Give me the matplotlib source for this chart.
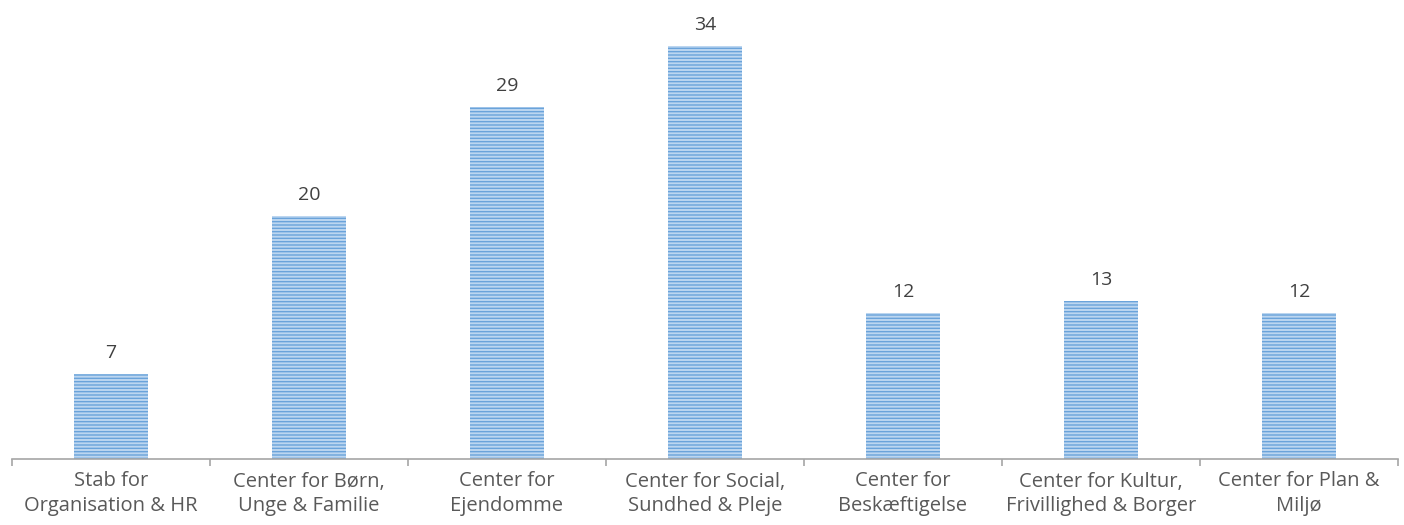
import matplotlib
matplotlib.use("Agg")
import matplotlib.pyplot as plt
import numpy as np

categories = ["Stab for\nOrganisation & HR", "Center for Børn,\nUnge & Familie", "Center for\nEjendomme",
              "Center for Social,\nSundhed & Pleje", "Center for\nBeskæftigelse",
              "Center for Kultur,\nFrivillighed & Borger", "Center for Plan &\nMiljø"]
values = [7, 20, 29, 34, 12, 13, 12]

plt.rcParams['hatch.linewidth'] = 1.0
plt.rcParams['hatch.color'] = '#6AA3DA'

fig = plt.figure(figsize=(14.04, 5.25), dpi=100)
ax = fig.add_axes([12/1404, 66/525, 1386/1404, 459/525])
x = np.arange(len(categories))
bars = ax.bar(x, values, width=0.37, color='#BCD6F0', edgecolor='#6AA3DA', linewidth=0, hatch='-----')
for xi, v in zip(x, values):
    ax.annotate(str(v), (xi, v), xytext=(0, 12), textcoords='offset pixels', ha='center', va='bottom',
                fontsize=14, color='#404040', family='Open Sans')
ax.set_xlim(-0.5, len(categories) - 0.5)
ax.set_ylim(0, 459/12.15)
for s in ['top', 'right', 'left']:
    ax.spines[s].set_visible(False)
ax.spines['bottom'].set_color('#A6A6A6')
ax.spines['bottom'].set_linewidth(1.2)
ax.set_yticks([])
ax.set_xticks(np.arange(-0.5, len(categories), 1.0))
ax.set_xticklabels([])
ax.set_xticks(x, minor=True)
ax.set_xticklabels(categories, minor=True, fontsize=14.5, color='#595959', family='Open Sans', linespacing=1.3)
ax.tick_params(axis='x', which='major', length=5, color='#A6A6A6', width=1.2)
ax.tick_params(axis='x', which='minor', length=0, pad=9)
fig.savefig("out.png", dpi=100)
